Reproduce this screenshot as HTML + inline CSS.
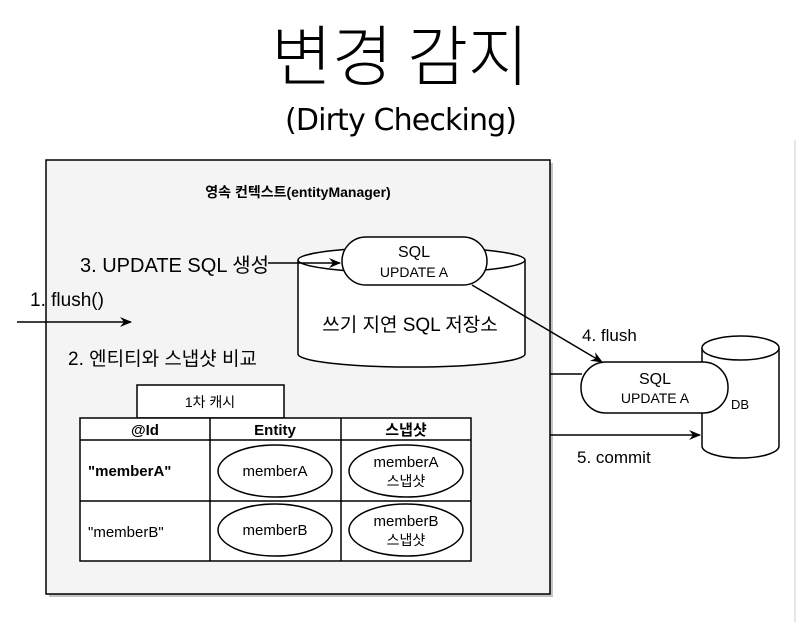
<!DOCTYPE html>
<html><head><meta charset="utf-8"><style>
html,body{margin:0;padding:0;background:#fff;}
svg{display:block;}
text{font-family:"Liberation Sans","Noto Sans CJK KR",sans-serif;fill:#000;}
</style></head><body>
<svg width="797" height="622" viewBox="0 0 797 622" xmlns="http://www.w3.org/2000/svg">
<defs>
<marker id="ar" markerWidth="12" markerHeight="10" refX="11" refY="5" orient="auto" markerUnits="userSpaceOnUse">
<path d="M0,0 L12,5 L0,10 L4,5 Z" fill="#000"/></marker>
</defs>
<text x="400" y="80" font-size="66" font-weight="300" text-anchor="middle" style="font-family:'Noto Sans CJK KR',sans-serif">변경 감지</text>
<text x="401" y="130" font-size="30" text-anchor="middle" style="font-family:'DejaVu Sans','Liberation Sans',sans-serif" textLength="232">(Dirty Checking)</text>
<line x1="795" y1="140" x2="795" y2="622" stroke="#ddd" stroke-width="1.5"/>
<rect x="49" y="163" width="504" height="434" fill="#888" opacity="0.5"/>
<rect x="46" y="160" width="504" height="434" fill="#f4f4f4" stroke="#000" stroke-width="1.5"/>
<text x="298" y="197" font-size="14" font-weight="bold" text-anchor="middle">영속 컨텍스트(entityManager)</text>
<path d="M298,260 L298,354 A113,13 0 0 0 525,354 L525,260" fill="#fff" stroke="#000" stroke-width="1.5"/>
<ellipse cx="411.5" cy="260" rx="113.5" ry="13" fill="#fff" stroke="#000" stroke-width="1.5"/>
<rect x="342" y="237" width="145" height="48" rx="24" fill="#fff" stroke="#000" stroke-width="1.5"/>
<text x="414" y="257" font-size="16" text-anchor="middle">SQL</text>
<text x="414" y="277" font-size="14" text-anchor="middle">UPDATE A</text>
<text x="410" y="331" font-size="19" text-anchor="middle">쓰기 지연 SQL 저장소</text>
<text x="80" y="272" font-size="20">3. UPDATE SQL 생성</text>
<line x1="268" y1="263" x2="340" y2="263" stroke="#000" stroke-width="1.5" marker-end="url(#ar)"/>
<text x="30" y="306" font-size="19">1. flush()</text>
<line x1="17" y1="322" x2="131" y2="322" stroke="#000" stroke-width="1.5" marker-end="url(#ar)"/>
<text x="68" y="365" font-size="19">2. 엔티티와 스냅샷 비교</text>
<line x1="472" y1="285" x2="602" y2="362" stroke="#000" stroke-width="1.5" marker-end="url(#ar)"/>
<text x="582" y="341" font-size="17">4. flush</text>
<path d="M702,348 L702,446 A38.5,12 0 0 0 779,446 L779,348" fill="#fff" stroke="#000" stroke-width="1.5"/>
<ellipse cx="740.5" cy="348" rx="38.5" ry="12" fill="#fff" stroke="#000" stroke-width="1.5"/>
<text x="731" y="409" font-size="13">DB</text>
<line x1="550" y1="374" x2="582" y2="374" stroke="#000" stroke-width="1.5"/>
<rect x="581" y="362" width="147" height="51" rx="25" fill="#fff" stroke="#000" stroke-width="1.5"/>
<text x="655" y="384" font-size="16" text-anchor="middle">SQL</text>
<text x="655" y="403" font-size="14" text-anchor="middle">UPDATE A</text>
<line x1="550" y1="435" x2="700" y2="435" stroke="#000" stroke-width="1.5" marker-end="url(#ar)"/>
<text x="577" y="463" font-size="17">5. commit</text>
<rect x="137" y="385" width="147" height="33" fill="#fff" stroke="#000" stroke-width="1.5"/>
<text x="210" y="407" font-size="14" text-anchor="middle">1차 캐시</text>
<rect x="80" y="418" width="391" height="143" fill="#fff" stroke="#000" stroke-width="1.5"/>
<line x1="80" y1="440" x2="471" y2="440" stroke="#000" stroke-width="1.5"/>
<line x1="80" y1="501" x2="471" y2="501" stroke="#000" stroke-width="1.5"/>
<line x1="210" y1="418" x2="210" y2="561" stroke="#000" stroke-width="1.5"/>
<line x1="341" y1="418" x2="341" y2="561" stroke="#000" stroke-width="1.5"/>
<text x="145" y="435" font-size="15" font-weight="bold" text-anchor="middle">@Id</text>
<text x="275" y="435" font-size="15" font-weight="bold" text-anchor="middle">Entity</text>
<text x="406" y="435" font-size="15" font-weight="bold" text-anchor="middle">스냅샷</text>
<text x="88" y="476" font-size="15" font-weight="bold">"memberA"</text>
<text x="88" y="537" font-size="15">"memberB"</text>
<ellipse cx="275" cy="471" rx="57" ry="26" fill="#fff" stroke="#000" stroke-width="1.5"/>
<text x="275" y="476" font-size="15" text-anchor="middle">memberA</text>
<ellipse cx="406" cy="471" rx="57" ry="26" fill="#fff" stroke="#000" stroke-width="1.5"/>
<text x="406" y="467" font-size="15" text-anchor="middle">memberA</text>
<text x="406" y="486" font-size="14" text-anchor="middle">스냅샷</text>
<ellipse cx="275" cy="530" rx="57" ry="26" fill="#fff" stroke="#000" stroke-width="1.5"/>
<text x="275" y="535" font-size="15" text-anchor="middle">memberB</text>
<ellipse cx="406" cy="530" rx="57" ry="26" fill="#fff" stroke="#000" stroke-width="1.5"/>
<text x="406" y="526" font-size="15" text-anchor="middle">memberB</text>
<text x="406" y="545" font-size="14" text-anchor="middle">스냅샷</text>
</svg>
</body></html>
